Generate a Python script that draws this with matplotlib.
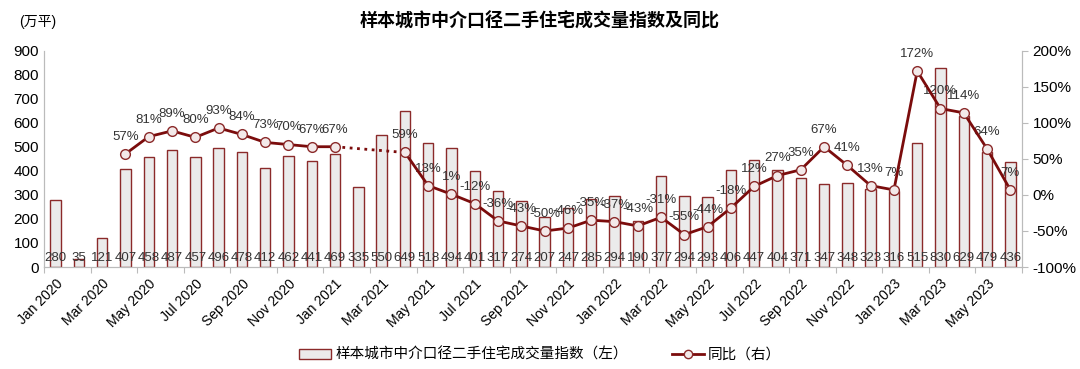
import numpy as np
import matplotlib.pyplot as plt
from matplotlib.lines import Line2D
from matplotlib.patches import Patch
from matplotlib.ticker import FuncFormatter

plt.rcParams['font.family'] = ['Liberation Sans', 'Noto Sans CJK SC', 'DejaVu Sans']

months = ['Jan', 'Feb', 'Mar', 'Apr', 'May', 'Jun', 'Jul', 'Aug', 'Sep', 'Oct', 'Nov', 'Dec']
labels = [f'{m} {y}' for y in (2020, 2021, 2022, 2023) for m in months][:42]

volume = [280, 35, 121, 407, 458, 487, 457, 496, 478, 412, 462, 441,
          469, 335, 550, 649, 518, 494, 401, 317, 274, 207, 247, 285,
          294, 190, 377, 294, 293, 406, 447, 404, 371, 347, 348, 323,
          316, 515, 830, 629, 479, 436]

# yoy in %, None = no data
yoy = [None, None, None, 57, 81, 89, 80, 93, 84, 73, 70, 67,
       67, None, None, 59, 13, 1, -12, -36, -43, -50, -46, -35,
       -37, -43, -31, -55, -44, -18, 12, 27, 35, 67, 41, 13,
       7, 172, 120, 114, 64, 7]

red = '#7B0C0C'
x = np.arange(len(volume))
yoy_arr = np.array([np.nan if v is None else v / 100 for v in yoy])

fig = plt.figure(figsize=(10.8, 3.69), dpi=100)
ax = fig.add_axes([0.0407, 0.2764, 0.9056, 0.5856])
ax2 = ax.twinx()

ax.bar(x, volume, width=0.45, color='#EBEBEB', edgecolor='#8B2A2A', linewidth=1.0, zorder=2)
for xi, v in zip(x, volume):
    ax.text(xi, 38, str(v), ha='center', va='center', fontsize=9.5, color='#333333', zorder=5)

# dotted bridge over the missing months
valid = np.where(~np.isnan(yoy_arr))[0]
for a, b in zip(valid[:-1], valid[1:]):
    if b - a > 1:
        ax2.plot([a, b], [yoy_arr[a], yoy_arr[b]], ls=':', color=red, lw=2, zorder=3)
ax2.plot(x, yoy_arr, color=red, lw=2, marker='o', markersize=7,
         markerfacecolor='#F3E9E9', markeredgecolor='#8B2A2A', markeredgewidth=1, zorder=4)
for xi, v in zip(x, yoy):
    if v is not None:
        ax2.annotate(f'{v}%', (xi, v / 100), xytext=(0, 8), textcoords='offset points',
                     ha='center', va='bottom', fontsize=9.5, color='#333333')

ax.set_xlim(-0.5, len(x) - 0.5)
ax.set_ylim(0, 900)
ax.set_yticks(range(0, 901, 100))
ax2.set_ylim(-1, 2)
ax2.set_yticks(np.arange(-1, 2.01, 0.5))
ax2.yaxis.set_major_formatter(FuncFormatter(lambda v, p: f'{v * 100:.0f}%'))

ax.set_xticks(np.arange(-0.5, len(x), 2))
ax.set_xticklabels([])
ax.set_xticks(x[::2], minor=True)
ax.set_xticklabels(labels[::2], minor=True, rotation=45, ha='right', rotation_mode='anchor', fontsize=10)
ax.tick_params(axis='x', which='major', length=4, color='#BBBBBB')
ax.tick_params(axis='x', which='minor', length=0, pad=7)
ax.tick_params(axis='y', length=0, labelsize=11)
ax2.tick_params(axis='y', length=4, color='#BBBBBB', labelsize=11)

for a in (ax, ax2):
    a.spines['top'].set_visible(False)
    for s in ('left', 'right', 'bottom'):
        a.spines[s].set_color('#BBBBBB')

fig.text(0.5, 0.943, '样本城市中介口径二手住宅成交量指数及同比', ha='center', va='center',
         fontsize=13, fontweight='bold', family=['Noto Sans CJK SC', 'DejaVu Sans'])
fig.text(0.018, 0.94, '(万平)', ha='left', va='center', fontsize=10,
         family=['Liberation Sans', 'Noto Sans CJK SC'])

handles = [Patch(facecolor='#EBEBEB', edgecolor='#8B2A2A', linewidth=1.0),
           Line2D([], [], color=red, lw=2, marker='o', markersize=6,
                  markerfacecolor='#F3E9E9', markeredgecolor='#8B2A2A')]
fig.legend(handles, ['样本城市中介口径二手住宅成交量指数（左）', '同比（右）'],
           loc='center', bbox_to_anchor=(0.5, 0.038), ncol=2, frameon=False,
           prop={'family': ['Noto Sans CJK SC', 'DejaVu Sans'], 'size': 10.5},
           handlelength=2.2, handletextpad=0.3, columnspacing=3)

fig.savefig('out.png', dpi=100)
